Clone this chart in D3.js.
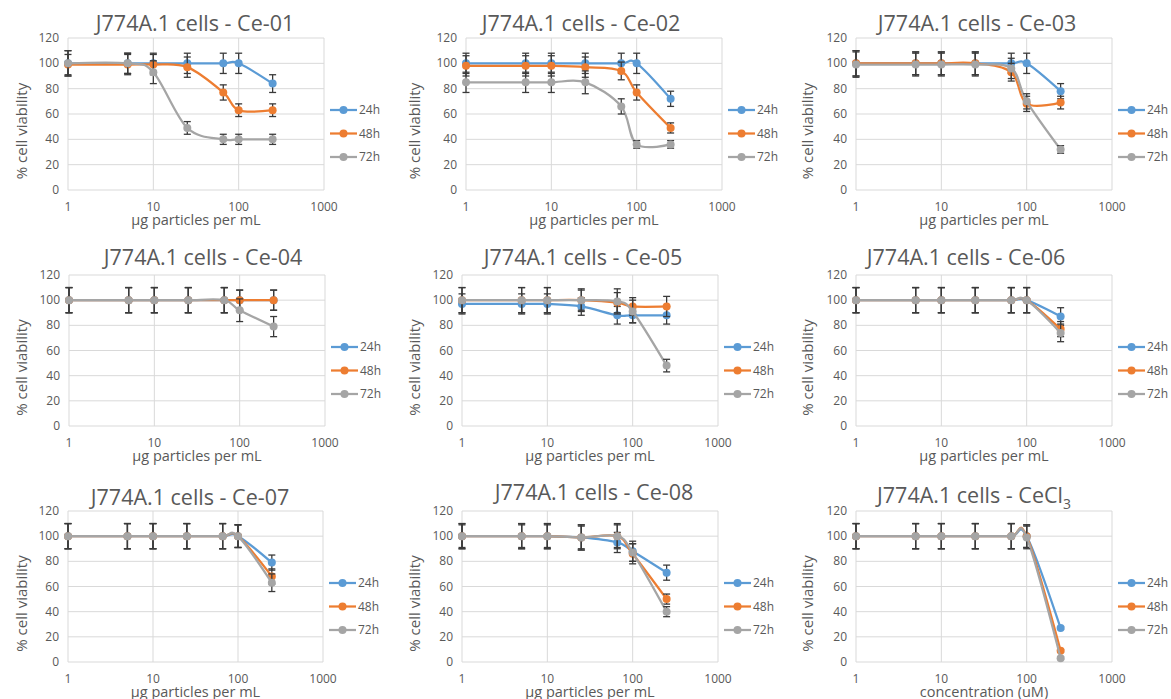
<!DOCTYPE html>
<html>
<head>
<meta charset="utf-8">
<script src="https://cdn.jsdelivr.net/npm/d3@7"></script>
<style>
  body { margin: 0; background: #fff; }
  svg { display: block; font-family: "Open Sans", sans-serif; }
</style>
</head>
<body>
<svg id="chart" width="1171" height="699"></svg>
<script>
// data
const doses = [1, 5, 10, 25, 66, 100, 250];
const seriesNames = ['24h', '48h', '72h'];
const seriesColors = ['#5B9BD5', '#ED7D31', '#A5A5A5'];
const yTicks = [0, 20, 40, 60, 80, 100, 120];
const xTicks = [1, 10, 100, 1000];

const titles = ['Ce-01', 'Ce-02', 'Ce-03', 'Ce-04', 'Ce-05', 'Ce-06', 'Ce-07', 'Ce-08', 'CeCl'];
const xTitles = ['µg particles per mL', 'µg particles per mL', 'µg particles per mL',
  'µg particles per mL', 'µg particles per mL', 'µg particles per mL',
  'µg particles per mL', 'µg particles per mL', 'concentration (uM)'];

// viability per panel: [24h, 48h, 72h]
const ce01 = [[100, 100, 100, 100, 100, 100, 84], [99, 99, 99, 97, 77, 63, 63], [100, 100, 93, 49, 40, 40, 40]];
const ce02 = [[100, 100, 100, 100, 100, 100, 72], [98, 98, 98, 97, 94, 77, 49], [85, 85, 85, 85, 66, 36, 36]];
const ce03 = [[100, 100, 100, 100, 100, 100, 78], [100, 100, 100, 100, 93, 68, 69], [99, 99, 99, 99, 96, 70, 32]];
const ce04 = [[100, 100, 100, 100, 100, 100, 100], [100, 100, 100, 100, 100, 100, 100], [100, 100, 100, 100, 100, 92, 79]];
const ce05 = [[97, 97, 97, 95, 88, 88, 88], [100, 100, 100, 100, 98, 95, 95], [100, 100, 100, 100, 99, 91, 48]];
const ce06 = [[100, 100, 100, 100, 100, 100, 87], [100, 100, 100, 100, 100, 100, 77], [100, 100, 100, 100, 100, 100, 74]];
const ce07 = [[100, 100, 100, 100, 100, 100, 79], [100, 100, 100, 100, 100, 100, 68], [100, 100, 100, 100, 100, 100, 63]];
const ce08 = [[100, 100, 100, 99, 95, 88, 71], [100, 100, 100, 99, 100, 86, 50], [100, 100, 100, 99, 100, 87, 40]];
const cecl3 = [[100, 100, 100, 100, 100, 100, 27], [100, 100, 100, 100, 100, 100, 9], [100, 100, 100, 100, 100, 99, 3]];

// error (+/-) per panel: [24h, 48h, 72h]
const err01 = [[10, 8, 8, 8, 8, 8, 7], [8, 8, 8, 8, 6, 5, 5], [10, 8, 9, 5, 4, 4, 4]];
const err02 = [[8, 8, 8, 8, 8, 8, 6], [8, 8, 8, 8, 7, 6, 4], [8, 8, 8, 9, 6, 3, 3]];
const err03 = [[10, 9, 9, 9, 8, 8, 6], [10, 9, 9, 9, 7, 6, 5], [10, 9, 9, 9, 8, 6, 3]];
const err04 = [[10, 10, 10, 10, 10, 8, 8], [10, 10, 10, 10, 10, 8, 8], [10, 10, 10, 10, 10, 9, 8]];
const err05 = [[8, 8, 8, 7, 7, 6, 7], [10, 10, 10, 8, 8, 7, 8], [10, 10, 10, 9, 10, 9, 5]];
const err06 = [[10, 10, 10, 10, 10, 10, 7], [10, 10, 10, 10, 10, 10, 6], [10, 10, 10, 10, 10, 10, 7]];
const err07 = [[10, 10, 10, 10, 10, 9, 6], [10, 10, 10, 10, 10, 9, 6], [10, 10, 10, 10, 10, 9, 7]];
const err08 = [[10, 10, 10, 10, 8, 8, 6], [9, 9, 9, 9, 9, 8, 4], [10, 10, 10, 10, 10, 7, 4]];
const errCl = [[10, 10, 10, 10, 10, 9, 1], [10, 10, 10, 10, 10, 9, 1], [10, 10, 10, 10, 10, 9, 1]];

const panelValues = [ce01, ce02, ce03, ce04, ce05, ce06, ce07, ce08, cecl3];
const panelErrors = [err01, err02, err03, err04, err05, err06, err07, err08, errCl];

// layout of each plot area
const frames = [
  { l: 68, r: 324, t: 38, b: 190, tx: 195, ty: 31, ax: 22 },
  { l: 466, r: 722, t: 38, b: 190, tx: 581, ty: 31, ax: 415 },
  { l: 856, r: 1112, t: 38, b: 190, tx: 977, ty: 31, ax: 808 },
  { l: 69, r: 325, t: 275, b: 426, tx: 203, ty: 265, ax: 22 },
  { l: 462, r: 718, t: 275, b: 426, tx: 583, ty: 265, ax: 415 },
  { l: 856, r: 1112, t: 275, b: 426, tx: 966, ty: 265, ax: 808 },
  { l: 68, r: 323, t: 511, b: 662, tx: 190, ty: 505, ax: 22 },
  { l: 462, r: 718, t: 511, b: 662, tx: 594, ty: 500, ax: 415 },
  { l: 856, r: 1112, t: 511, b: 662, tx: 974, ty: 503, ax: 808 },
];

const svg = d3.select('#chart');
const textColor = '#595959';
const gridColor = '#D9D9D9';

function drawPanel(i) {
  const f = frames[i];
  const values = panelValues[i];
  const errors = panelErrors[i];
  const g = svg.append('g');

  const x = d3.scaleLog().domain([1, 1000]).range([f.l, f.r]);
  const y = d3.scaleLinear().domain([0, 120]).range([f.b, f.t]);

  // gridlines
  g.selectAll('.hgrid')
    .data(yTicks)
    .enter()
    .append('line')
    .attr('x1', f.l)
    .attr('x2', f.r)
    .attr('y1', d => y(d))
    .attr('y2', d => y(d))
    .style('stroke', gridColor)
    .style('stroke-width', 1);

  g.selectAll('.vgrid')
    .data(xTicks)
    .enter()
    .append('line')
    .attr('x1', d => x(d))
    .attr('x2', d => x(d))
    .attr('y1', f.t)
    .attr('y2', f.b)
    .style('stroke', gridColor)
    .style('stroke-width', 1);

  // tick labels
  g.selectAll('.ylab')
    .data(yTicks)
    .enter()
    .append('text')
    .attr('x', f.l - 9)
    .attr('y', d => y(d) + 4)
    .attr('text-anchor', 'end')
    .style('font-size', '12px')
    .style('fill', textColor)
    .text(d => d);

  g.selectAll('.xlab')
    .data(xTicks)
    .enter()
    .append('text')
    .attr('x', d => x(d))
    .attr('y', f.b + 21)
    .attr('text-anchor', 'middle')
    .style('font-size', '12px')
    .style('fill', textColor)
    .text(d => d);

  // titles
  const title = g.append('text')
    .attr('x', f.tx)
    .attr('y', f.ty)
    .attr('text-anchor', 'middle')
    .style('font-size', '21.5px')
    .style('fill', textColor)
    .text(`J774A.1 cells - ${titles[i]}`);
  if (i === 8) {
    title.append('tspan')
      .attr('dy', 6)
      .style('font-size', '14px')
      .text('3');
  }

  g.append('text')
    .attr('x', (f.l + f.r) / 2)
    .attr('y', f.b + 35)
    .attr('text-anchor', 'middle')
    .style('font-size', '14.5px')
    .style('fill', textColor)
    .text(xTitles[i]);

  g.append('text')
    .attr('transform', `translate(${f.ax},${(f.t + f.b) / 2 + 17}) rotate(-90)`)
    .attr('text-anchor', 'middle')
    .attr('dy', '0.35em')
    .style('font-size', '15px')
    .style('fill', textColor)
    .text('% cell viability');

  const line = d3.line()
    .x(d => x(d[0]))
    .y(d => y(d[1]))
    .curve(d3.curveCardinal.tension(0));

  values.forEach((vals, s) => {
    const pts = doses.map((d, k) => [d, vals[k], errors[s][k]]);
    const color = seriesColors[s];

    g.append('path')
      .datum(pts)
      .attr('d', line)
      .style('fill', 'none')
      .style('stroke', color)
      .style('stroke-width', 2.25);

    const bars = g.selectAll(`.err${s}`)
      .data(pts)
      .enter()
      .append('g')
      .style('stroke', '#3a3a3a')
      .style('stroke-width', 1.3);
    bars.append('line')
      .attr('x1', d => x(d[0]))
      .attr('x2', d => x(d[0]))
      .attr('y1', d => y(d[1] - d[2]))
      .attr('y2', d => y(d[1] + d[2]));
    bars.append('line')
      .attr('x1', d => x(d[0]) - 3.5)
      .attr('x2', d => x(d[0]) + 3.5)
      .attr('y1', d => y(d[1] + d[2]))
      .attr('y2', d => y(d[1] + d[2]));
    bars.append('line')
      .attr('x1', d => x(d[0]) - 3.5)
      .attr('x2', d => x(d[0]) + 3.5)
      .attr('y1', d => y(d[1] - d[2]))
      .attr('y2', d => y(d[1] - d[2]));

    g.selectAll(`.dot${s}`)
      .data(pts)
      .enter()
      .append('circle')
      .attr('cx', d => x(d[0]))
      .attr('cy', d => y(d[1]))
      .attr('r', 4)
      .style('fill', color);
  });

  // legend
  seriesNames.forEach((name, s) => {
    const ly = f.t + 72 + s * 23.5;
    g.append('line')
      .attr('x1', f.r + 6)
      .attr('x2', f.r + 33)
      .attr('y1', ly)
      .attr('y2', ly)
      .style('stroke', seriesColors[s])
      .style('stroke-width', 2.25);
    g.append('circle')
      .attr('cx', f.r + 19.5)
      .attr('cy', ly)
      .attr('r', 4)
      .style('fill', seriesColors[s]);
    g.append('text')
      .attr('x', f.r + 35)
      .attr('y', ly + 4)
      .style('font-size', '12px')
      .style('fill', textColor)
      .text(name);
  });
}

titles.forEach((t, i) => drawPanel(i));
</script>
</body>
</html>
